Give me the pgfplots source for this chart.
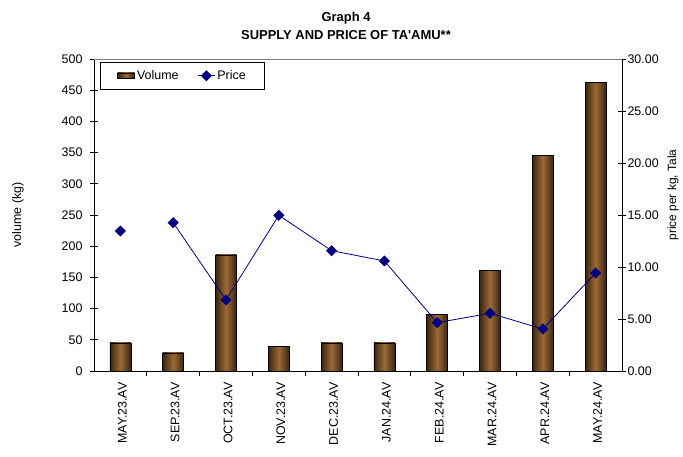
\documentclass[border=0pt]{standalone}
\usepackage{fontspec}
\setmainfont{Liberation Sans}
\usepackage{pgfplots}
\pgfplotsset{compat=1.18}
\definecolor{barmid}{HTML}{9C6A36}
\definecolor{bardark}{HTML}{3A2510}
\definecolor{navy}{HTML}{000080}
\pgfplotsset{barsty/.style={ybar, bar width=21bp, bar shift=0pt, draw=black, line width=0.6bp, left color=bardark, right color=bardark, middle color=barmid}}
\begin{document}
\begin{tikzpicture}[x=1bp,y=1bp]
\useasboundingbox (-94,-86) rectangle (589,371);
\begin{axis}[
  at={(0,0)}, anchor=south west,
  scale only axis, width=528bp, height=312bp,
  xmin=-0.5, xmax=9.5, ymin=0, ymax=500,
  ytick={0,50,...,500},
  xtick={0,...,9},
  xticklabels={MAY.23.AV,SEP.23.AV,OCT.23.AV,NOV.23.AV,DEC.23.AV,JAN.24.AV,FEB.24.AV,MAR.24.AV,APR.24.AV,MAY.24.AV},
  major x tick style={draw=none},
  minor xtick={0.5,1.5,...,8.5},
  minor tick length=5bp,
  major tick length=8bp,
  tick align=outside,
  ytick style={xshift=4bp},
  axis x line*=bottom, axis y line*=left,
  axis line style={black, line width=0.8bp},
  every tick/.style={black, line width=0.8bp},
  xticklabel style={rotate=90, anchor=east, font=\fontsize{12.5}{14}\selectfont, yshift=-2bp},
  yticklabel style={font=\fontsize{12.5}{14}\selectfont},
  /pgf/number format/assume math mode=true,
  ylabel={volume (kg)},
  ylabel style={at={(axis description cs:-0.144,0.5)}, anchor=center, font=\fontsize{12.5}{14}\selectfont},
]
\addplot[barsty] coordinates {(0,45)};
\addplot[barsty] coordinates {(1,29)};
\addplot[barsty] coordinates {(2,186)};
\addplot[barsty] coordinates {(3,39)};
\addplot[barsty] coordinates {(4,45)};
\addplot[barsty] coordinates {(5,45)};
\addplot[barsty] coordinates {(6,91)};
\addplot[barsty] coordinates {(7,161)};
\addplot[barsty] coordinates {(8,346)};
\addplot[barsty] coordinates {(9,463)};
\end{axis}
\begin{axis}[
  at={(0,0)}, anchor=south west,
  scale only axis, width=528bp, height=312bp,
  xmin=-0.5, xmax=9.5, ymin=0, ymax=30,
  ytick={0,5,...,30},
  xtick=\empty,
  axis y line*=right, axis x line*=top,
  y axis line style={black, line width=0.8bp},
  x axis line style={gray, line width=0.8bp},
  major tick length=8bp,
  tick align=outside,
  ytick style={xshift=-4bp},
  every tick/.style={black, line width=0.8bp},
  yticklabel style={font=\fontsize{12.5}{14}\selectfont, xshift=-6bp, /pgf/number format/.cd, fixed, fixed zerofill, precision=2, assume math mode=true},
  ylabel={price per kg, Tala},
  ylabel style={at={(axis description cs:1.0966,0.564)}, anchor=center, font=\fontsize{12}{14}\selectfont},
  legend style={at={(axis description cs:0.0114,0.990)}, anchor=north west, legend columns=2, draw=black, line width=0.8bp, font=\fontsize{12.5}{14}\selectfont, inner xsep=17bp, inner ysep=6bp,
    /tikz/every even column/.append style={column sep=17bp}},
]
\addlegendimage{area legend, draw=black, line width=0.6bp, left color=bardark, right color=bardark, middle color=barmid}
\addlegendentry{Volume}
\addplot[navy, line width=0.8bp, mark=square*, mark size=3.5bp, mark options={fill=navy, rotate=45}, unbounded coords=jump]
 coordinates {(0,13.46) (0.5,nan) (1,14.26) (2,6.83) (3,14.97) (4,11.57) (5,10.58) (6,4.65) (7,5.55) (8,4.04) (9,9.42)};
\addlegendentry{Price}
\end{axis}
\node[font=\bfseries\fontsize{13}{18}\selectfont, align=center] at (252,345) {Graph 4\\SUPPLY AND PRICE OF TA\textquotesingle AMU**};
\end{tikzpicture}
\end{document}
